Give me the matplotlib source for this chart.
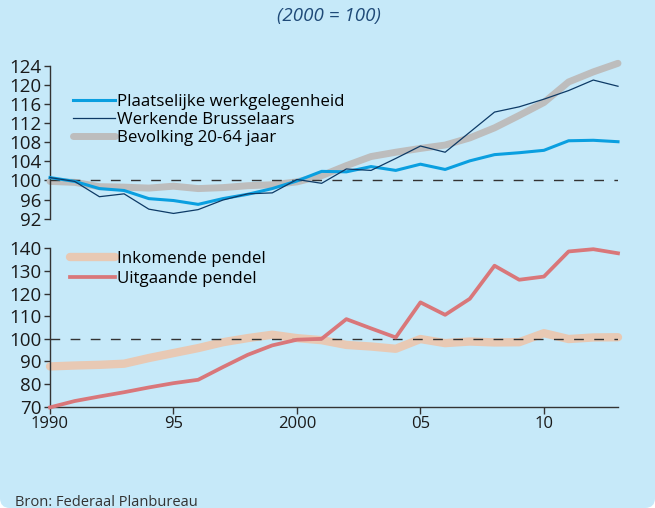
import matplotlib
matplotlib.use("Agg")
import matplotlib.pyplot as plt
from matplotlib.patches import FancyBboxPatch

plt.rcParams['font.family'] = ['Open Sans', 'DejaVu Sans']

# data (2000 = 100)
years = list(range(1990, 2014))
plaatselijke = [100.6, 99.8, 98.3, 97.9, 96.2, 95.8, 95.0, 96.2, 97.1, 98.3, 99.9, 101.9,
                101.8, 102.9, 102.1, 103.4, 102.3, 104.1, 105.4, 105.8, 106.3, 108.3, 108.4, 108.1]
werkende = [100.6, 99.8, 96.6, 97.2, 94.0, 93.1, 93.9, 95.9, 97.2, 97.4, 100.2, 99.4,
            102.4, 102.1, 104.6, 107.2, 105.9, 110.1, 114.3, 115.4, 117.0, 118.8, 121.0, 119.7]
bevolking = [99.8, 99.6, 98.7, 98.6, 98.4, 98.8, 98.3, 98.5, 98.9, 99.1, 99.7, 101.0,
             103.1, 105.0, 105.9, 106.7, 107.4, 108.9, 111.0, 113.6, 116.3, 120.6, 122.7, 124.5]
inkomende = [87.8, 88.2, 88.5, 89.0, 91.5, 93.7, 95.9, 98.5, 100.3, 101.8, 100.3, 99.4,
             97.3, 96.6, 95.6, 99.9, 98.1, 98.8, 98.4, 98.5, 102.5, 99.9, 100.6, 100.7]
uitgaande = [69.7, 72.5, 74.5, 76.4, 78.5, 80.4, 81.9, 87.5, 92.9, 97.1, 99.6, 100.0,
             108.7, 104.6, 100.6, 116.1, 110.6, 117.7, 132.3, 126.1, 127.5, 138.6, 139.6, 137.8]

top_ticks = [92, 96, 100, 104, 108, 112, 116, 120, 124]
bottom_ticks = [70, 80, 90, 100, 110, 120, 130, 140]
x_ticks = [1990, 1995, 2000, 2005, 2010]
x_labels = ["1990", "95", "2000", "05", "10"]

bg = '#c6e9f9'
W, H = 655, 508
fig = plt.figure(figsize=(W / 100, H / 100), dpi=100, facecolor='white')

# achtergrond met afgeronde hoeken onderaan
r = 10
patch = FancyBboxPatch((0, 0), 1, 1.2, boxstyle=f"round,pad=0,rounding_size={r / W}",
                       mutation_aspect=W / H, transform=fig.transFigure,
                       facecolor=bg, edgecolor='none', zorder=-10)
fig.patches.append(patch)

def px(x0, y0, x1, y1):
    # pixel box -> figure fraction
    return [x0 / W, 1 - y1 / H, (x1 - x0) / W, (y1 - y0) / H]

ax1 = fig.add_axes(px(50, 65.7, 618, 218.7))
ax2 = fig.add_axes(px(50, 248.3, 618, 406.7))

for ax in (ax1, ax2):
    ax.set_facecolor('none')
    ax.spines['top'].set_visible(False)
    ax.spines['right'].set_visible(False)
    for s in ax.spines.values():
        s.set_color('#333333')
        s.set_linewidth(1.0)
    ax.tick_params(direction='out', length=4, width=1, color='#333333',
                   labelsize=13.5, labelcolor='#1a1a1a', pad=2)
    ax.set_xlim(1990, 2013)

# bovenste paneel
ax1.spines['bottom'].set_visible(False)
ax1.set_ylim(92, 124)
ax1.set_yticks(top_ticks)
ax1.set_xticks([])
ax1.plot(years, bevolking, color='#bdbdbd', lw=5, solid_capstyle='round', clip_on=False, zorder=2,
         label='Bevolking 20-64 jaar')
ax1.plot([1990, 2013], [100, 100], color='#333333', lw=1, dashes=(7, 7.5), zorder=3)
ax1.plot(years, plaatselijke, color='#0a9fe0', lw=2.2, clip_on=False, zorder=4,
         label='Plaatselijke werkgelegenheid')
ax1.plot(years, werkende, color='#0d3a66', lw=0.9, clip_on=False, zorder=5,
         label='Werkende Brusselaars')
h, l = ax1.get_legend_handles_labels()
order = [1, 2, 0]
ax1.legend([h[i] for i in order], [l[i] for i in order], loc='upper left',
           bbox_to_anchor=(73 / W, 1 - 94 / H), bbox_transform=fig.transFigure,
           frameon=False, fontsize=12.2, borderpad=0, borderaxespad=0,
           handlelength=2.5, handletextpad=0.12, labelspacing=0.12)

# onderste paneel
ax2.set_ylim(70, 140)
ax2.set_yticks(bottom_ticks)
ax2.set_xticks(x_ticks)
ax2.set_xticklabels(x_labels)
ax2.tick_params(axis='x', length=5, pad=2, labelsize=12)
ax2.plot(years, inkomende, color='#e8c9b4', lw=6, solid_capstyle='round', clip_on=False, zorder=2,
         label='Inkomende pendel')
ax2.plot([1990, 2013], [100, 100], color='#333333', lw=1, dashes=(7, 7.5), zorder=3)
ax2.plot(years, uitgaande, color='#d9777a', lw=2.7, clip_on=False, zorder=4,
         label='Uitgaande pendel')
ax2.legend(loc='upper left', bbox_to_anchor=(70 / W, 1 - 251 / H), bbox_transform=fig.transFigure,
           frameon=False, fontsize=12.2, borderpad=0, borderaxespad=0,
           handlelength=2.65, handletextpad=0.12, labelspacing=0.22)

fig.text(0.502, 1 - 15.5 / H, '(2000 = 100)', ha='center', va='center', style='italic',
         fontsize=13.5, color='#1f4a78')
fig.text(15 / W, 1 - 495 / H, 'Bron: Federaal Planbureau', ha='left', va='top',
         fontsize=10.5, color='#333333')

fig.savefig('out.png', dpi=100, facecolor='white')
